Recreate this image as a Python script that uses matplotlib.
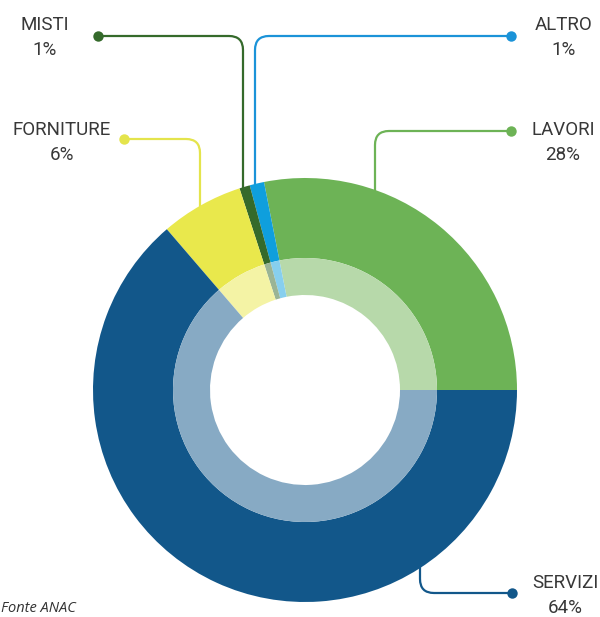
import numpy as np
import matplotlib.pyplot as plt
from matplotlib.path import Path
from matplotlib.patches import PathPatch

plt.rcParams['font.family'] = ['Liberation Sans Narrow', 'Roboto', 'DejaVu Sans']

# data (order: counterclockwise from 3 o'clock)
labels = ['LAVORI', 'ALTRO', 'MISTI', 'FORNITURE', 'SERVIZI']
values = [28.1, 1.1, 0.8, 6.3, 63.7]
pct_labels = ['28%', '1%', '1%', '6%', '64%']
colors = ['#6db356', '#0f9fdd', '#356a2b', '#e9e84c', '#12578a']
light_colors = ['#b7d9aa', '#87cfee', '#9ab495', '#f4f3a5', '#87aac4']
line_colors = ['#6db356', '#1b93d8', '#356a2b', '#e4e44c', '#12578a']

W, H = 600, 617
fig = plt.figure(figsize=(W / 100, H / 100), dpi=100)
ax = fig.add_axes([0, 0, 1, 1])

cx, cy = 305, H - 390
ax.pie(values, radius=212, center=(cx, cy), colors=colors, startangle=0,
       counterclock=True, wedgeprops=dict(width=80, linewidth=0), frame=True)
ax.pie(values, radius=132, center=(cx, cy), colors=light_colors, startangle=0,
       counterclock=True, wedgeprops=dict(width=37, linewidth=0), frame=True)

ax.set_xlim(0, W)
ax.set_ylim(0, H)
ax.set_aspect('equal')
ax.axis('off')


def elbow(p0, c, p1, color, r=14):
    # y given in pixel coords from the top
    p0 = np.array([p0[0], H - p0[1]], float)
    c = np.array([c[0], H - c[1]], float)
    p1 = np.array([p1[0], H - p1[1]], float)
    d1 = (c - p0) / np.linalg.norm(c - p0)
    d2 = (p1 - c) / np.linalg.norm(p1 - c)
    a = c - d1 * r
    b = c + d2 * r
    path = Path([p0, a, c, b, p1],
                [Path.MOVETO, Path.LINETO, Path.CURVE3, Path.CURVE3, Path.LINETO])
    ax.add_patch(PathPatch(path, fill=False, edgecolor=color, lw=1.6,
                           capstyle='butt', zorder=0))


# callout lines: (dot, corner, end on ring)
callouts = {
    'LAVORI': ((511, 131), (375, 131), (375, 195)),
    'ALTRO': ((511, 36), (255, 36), (255, 190)),
    'MISTI': ((98, 36), (243, 36), (243, 192)),
    'FORNITURE': ((124, 139), (200, 139), (200, 210)),
    'SERVIZI': ((512, 593), (420, 593), (420, 560)),
}
text_pos = {
    'LAVORI': (563, 130),
    'ALTRO': (564, 25),
    'MISTI': (45, 25),
    'FORNITURE': (62, 130),
    'SERVIZI': (565, 583),
}

for lab, pct, lc in zip(labels, pct_labels, line_colors):
    dot, corner, end = callouts[lab]
    elbow(dot, corner, end, lc)
    ax.plot(dot[0], H - dot[1], 'o', color=lc, ms=7.5, mec='none', zorder=1)
    tx, ty = text_pos[lab]
    ax.text(tx, H - ty, lab, ha='center', va='center', fontsize=13.5, color='#383838')
    ax.text(tx, H - ty - 25, pct, ha='center', va='center', fontsize=13.5, color='#383838')

ax.text(1, H - 609, 'Fonte ANAC', ha='left', va='center', fontsize=10.5,
        style='italic', color='#333333', family=['Open Sans', 'DejaVu Sans'])

fig.savefig('out.png', dpi=100)
